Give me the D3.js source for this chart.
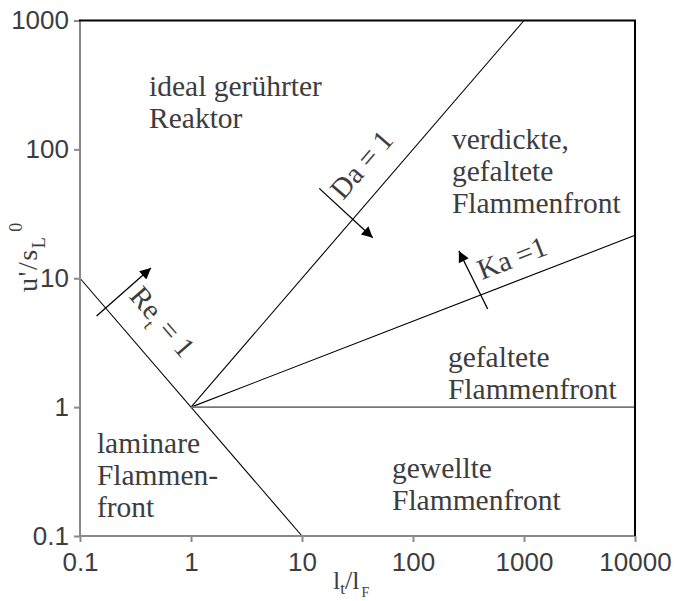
<!DOCTYPE html>
<html>
<head>
<meta charset="utf-8">
<script src="https://cdn.jsdelivr.net/npm/d3@7"></script>
<style>
  html, body { margin: 0; padding: 0; background: #fff; }
  svg { display: block; }
  .tick text { font-family: "Liberation Sans", Arial, sans-serif; font-size: 26px; fill: #3d3d3d; }
  .serif { font-family: "Liberation Serif", "Times New Roman", serif; fill: #3d3d3d; }
</style>
</head>
<body>
<script>
// Borghi regime diagram: turbulence-to-flame length scale vs. velocity ratio
const xTicks = [0.1, 1, 10, 100, 1000, 10000];
const yTicks = [0.1, 1, 10, 100, 1000];

// Regime boundaries (lt/lF, u'/sL0)
const reLine   = [[0.1, 10], [10, 0.1]];          // Re_t = 1
const daLine   = [[1, 1], [1000, 1000]];          // Da = 1
const kaLine   = [[1, 1], [10000, 21.54]];        // Ka = 1
const flatLine = [[1, 1], [10000, 1]];            // u'/sL0 = 1

// Direction arrows crossing the boundaries [from, to]
const reArrow = [[0.141, 5.09], [0.436, 12.0]];
const daArrow = [[14.3, 49.8], [43.4, 20.6]];
const kaArrow = [[471, 5.77], [259, 16.3]];

// Regime names: [x, y (first baseline), lines]
const regions = [
  [0.419, 259,  ["ideal gerührter", "Reaktor"]],
  [224, 100.7,  ["verdickte,", "gefaltete", "Flammenfront"]],
  [206.5, 2.06, ["gefaltete", "Flammenfront"]],
  [64.7, 0.282, ["gewellte", "Flammenfront"]],
  [0.142, 0.441,["laminare", "Flammen-", "front"]]
];

const W = 674, H = 601;
const x = d3.scaleLog().domain([0.1, 10000]).range([80, 635]);
const y = d3.scaleLog().domain([0.1, 1000]).range([536, 20.5]);

const svg = d3.select("body").append("svg").attr("width", W).attr("height", H);

const defs = svg.append("defs");
defs.append("marker")
  .attr("id", "head")
  .attr("viewBox", "0 0 10 10")
  .attr("refX", 10).attr("refY", 5)
  .attr("markerWidth", 15).attr("markerHeight", 11)
  .attr("markerUnits", "userSpaceOnUse")
  .attr("orient", "auto")
  .append("path").attr("d", "M0,0 L10,5 L0,10 Z").attr("fill", "#000");

// Axes (ticks + labels)
const fmt = d => d3.format("~g")(d);
svg.append("g")
  .attr("transform", `translate(${x.range()[0]},0)`)
  .call(d3.axisLeft(y).tickValues(yTicks).tickFormat(fmt).tickSize(6).tickPadding(5))
  .call(g => g.select(".domain").remove())
  .call(g => g.selectAll(".tick line").attr("stroke", "#8a8a8a").attr("stroke-width", 2));

svg.append("g")
  .attr("transform", `translate(0,${y.range()[0]})`)
  .call(d3.axisBottom(x).tickValues(xTicks).tickFormat(fmt).tickSize(6).tickPadding(11))
  .call(g => g.select(".domain").remove())
  .call(g => g.selectAll(".tick line").attr("stroke", "#8a8a8a").attr("stroke-width", 2));

const [x0, x1] = x.range();
const [y0, y1] = y.range();

// Boundary lines
const line = d3.line().x(d => x(d[0])).y(d => y(d[1]));
[reLine, daLine, kaLine].forEach(l => {
  svg.append("path").attr("d", line(l)).attr("fill", "none").attr("stroke", "#000").attr("stroke-width", 1.1);
});
svg.append("path").attr("d", line(flatLine)).attr("fill", "none").attr("stroke", "#777").attr("stroke-width", 1.8);

// Frame: left/bottom grey, top/right black
svg.append("line").attr("x1", x0).attr("x2", x0).attr("y1", y0 + 1).attr("y2", y1 - 1)
  .attr("stroke", "#8a8a8a").attr("stroke-width", 2);
svg.append("line").attr("x1", x0 - 1).attr("x2", x1).attr("y1", y0).attr("y2", y0)
  .attr("stroke", "#8a8a8a").attr("stroke-width", 2);
svg.append("line").attr("x1", x0 - 1).attr("x2", x1 + 1).attr("y1", y1).attr("y2", y1)
  .attr("stroke", "#000").attr("stroke-width", 2);
svg.append("line").attr("x1", x1).attr("x2", x1).attr("y1", y1).attr("y2", y0)
  .attr("stroke", "#000").attr("stroke-width", 2);

// Arrows
[reArrow, daArrow, kaArrow].forEach(a => {
  svg.append("line")
    .attr("x1", x(a[0][0])).attr("y1", y(a[0][1]))
    .attr("x2", x(a[1][0])).attr("y2", y(a[1][1]))
    .attr("stroke", "#000").attr("stroke-width", 1.3)
    .attr("marker-end", "url(#head)");
});

// Region labels
regions.forEach(([rx, ry, lines]) => {
  const t = svg.append("text").attr("class", "serif").attr("font-size", 29.5)
    .attr("x", x(rx)).attr("y", y(ry));
  lines.forEach((s, i) => {
    t.append("tspan").attr("x", x(rx)).attr("dy", i === 0 ? 0 : 32).text(s);
  });
});

// Labels along boundaries
function angleOf(l) {
  const dx = x(l[1][0]) - x(l[0][0]);
  const dy = y(l[1][1]) - y(l[0][1]);
  return Math.atan2(dy, dx) * 180 / Math.PI;
}
function alongLabel(pos, ang, build) {
  const t = svg.append("text").attr("class", "serif").attr("font-size", 29)
    .attr("text-anchor", "middle")
    .attr("transform", `translate(${x(pos[0])},${y(pos[1])}) rotate(${ang})`);
  build(t);
}
alongLabel([0.474, 4.11], angleOf(reLine), t => {
  t.append("tspan").text("Re");
  t.append("tspan").attr("font-size", 17).attr("dy", 8).text("t");
  t.append("tspan").attr("dy", -8).text(" = 1");
});
alongLabel([40, 68], angleOf(daLine), t => t.text("Da = 1"));
alongLabel([840, 12.2], angleOf(kaLine), t => t.text("Ka =1"));

// Axis titles
const xt = svg.append("text").attr("class", "serif").attr("font-size", 26)
  .attr("x", 333).attr("y", 589);
xt.append("tspan").text("l");
xt.append("tspan").attr("font-size", 17).attr("dy", 5).text("t");
xt.append("tspan").attr("dy", -5).text("/l");
xt.append("tspan").attr("font-size", 14).attr("dy", 8).attr("dx", 2).text("F");

const yt = svg.append("text").attr("class", "serif").attr("font-size", 28)
  .attr("letter-spacing", 1.5)
  .attr("transform", "translate(37,292) rotate(-90)");
yt.append("tspan").text("u'/s");
yt.append("tspan").attr("font-size", 18).attr("dy", 8).text("L");
yt.append("tspan").attr("font-size", 18).attr("dy", -23).attr("dx", 4).text("0");
</script>
</body>
</html>
